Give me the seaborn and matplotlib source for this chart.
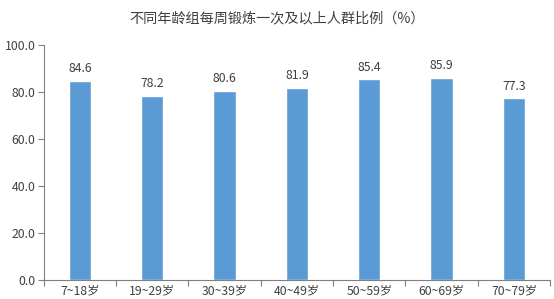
import matplotlib
matplotlib.use("Agg")
import matplotlib.pyplot as plt
import seaborn as sns
import numpy as np
import pandas as pd

categories = ["7~18岁", "19~29岁", "30~39岁", "40~49岁", "50~59岁", "60~69岁", "70~79岁"]
values = [84.6, 78.2, 80.6, 81.9, 85.4, 85.9, 77.3]
yticks = [0, 20, 40, 60, 80, 100]
title = "不同年龄组每周锻炼一次及以上人群比例（%）"

sns.set_theme(style="white")
plt.rcParams['font.family'] = ['Noto Sans CJK SC', 'DejaVu Sans']

fig = plt.figure(figsize=(5.54, 2.99), dpi=100)
ax = fig.add_axes([0.079, 0.0635, 0.914, 0.7855])

df = pd.DataFrame({"cat": categories, "val": values})
sns.barplot(data=df, x="cat", y="val", color="#5B9BD5", width=0.31, ax=ax, saturation=1)

ax.set_ylim(0, 100)
ax.set_xlim(-0.5, len(categories) - 0.5)
ax.set_yticks(yticks)
ax.set_yticklabels([f"{v:.1f}" for v in yticks], fontsize=8.8, color="#404040")
ax.set_xticks(range(len(categories)))
ax.set_xticklabels(categories, fontsize=8.8, color="#404040")
ax.tick_params(axis="x", length=0, pad=3)
ax.set_xticks(np.arange(-0.5, len(categories) + 0.5, 1), minor=True)
ax.tick_params(axis="x", which="minor", length=4, width=0.8, color="#808080", bottom=True, direction="out")
ax.tick_params(axis="y", length=4, width=0.8, color="#808080", left=True, direction="out", pad=2)
ax.set_xlabel("")
ax.set_ylabel("")

for s in ["top", "right"]:
    ax.spines[s].set_visible(False)
for s in ["left", "bottom"]:
    ax.spines[s].set_color("#808080")
    ax.spines[s].set_linewidth(0.8)

for i, v in enumerate(values):
    ax.text(i, v + 2.5, f"{v:.1f}", ha="center", va="bottom", fontsize=8.8, color="#404040")

fig.text(0.5, 0.94, title, ha="center", va="center", fontsize=10.2, color="#404040")

fig.savefig("out.png", dpi=100)
